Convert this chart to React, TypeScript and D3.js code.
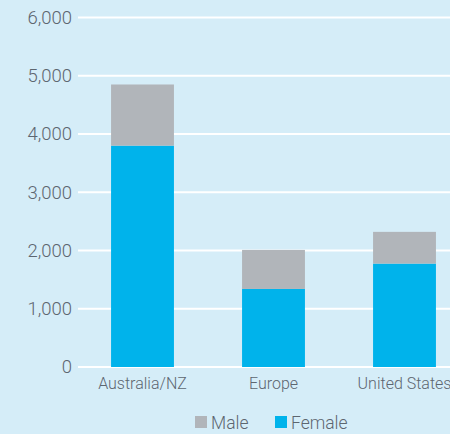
import { useEffect, useRef } from 'react'
import * as d3 from 'd3'

const regions = ['Australia/NZ', 'Europe', 'United States']
const female = [3800, 1340, 1775]
const male = [1050, 670, 545]
const yTicks = [0, 1000, 2000, 3000, 4000, 5000, 6000]
const seriesNames = ['Male', 'Female']

const App = () => {
	const svgRef = useRef(null)

	useEffect(() => {
		const width = 450
		const height = 434
		const bg = '#d5edf8'
		const textColor = '#5d6670'
		const colors = { Male: '#b1b5ba', Female: '#00b3eb' }

		const svg = d3.select(svgRef.current)
		svg.selectAll('*').remove()
		svg.attr('width', width).attr('height', height)

		svg.append('rect').attr('width', width).attr('height', height).attr('fill', bg)

		const x = d3.scaleBand().domain(regions).range([77, 470]).paddingInner(0.52).paddingOuter(0.26)
		const y = d3.scaleLinear().domain([0, 6000]).range([367, 17.5])

		// grid + y labels
		const grid = svg.append('g')
		grid
			.selectAll('line')
			.data(yTicks)
			.join('line')
			.attr('x1', 78)
			.attr('x2', width)
			.attr('y1', (d) => y(d))
			.attr('y2', (d) => y(d))
			.attr('stroke', '#ffffff')
			.attr('stroke-width', 2)

		grid
			.selectAll('text')
			.data(yTicks)
			.join('text')
			.attr('x', 72)
			.attr('y', (d) => y(d))
			.attr('dy', '0.35em')
			.attr('text-anchor', 'end')
			.attr('font-family', 'Roboto, sans-serif')
			.attr('font-weight', 300)
			.attr('font-size', 18.5)
			.attr('fill', textColor)
			.text((d) => d3.format(',')(d))

		// stacked bars
		const rows = regions.map((r, i) => ({ region: r, Female: female[i], Male: male[i] }))
		const stacked = d3.stack().keys(['Female', 'Male'])(rows)

		svg
			.append('g')
			.selectAll('g')
			.data(stacked)
			.join('g')
			.attr('fill', (s) => colors[s.key])
			.selectAll('rect')
			.data((s) => s)
			.join('rect')
			.attr('x', (d) => x(d.data.region))
			.attr('width', x.bandwidth())
			.attr('y', (d) => y(d[1]))
			.attr('height', (d) => y(d[0]) - y(d[1]))

		// x labels
		svg
			.append('g')
			.selectAll('text')
			.data(regions)
			.join('text')
			.attr('x', (d) => x(d) + x.bandwidth() / 2)
			.attr('y', 389)
			.attr('text-anchor', 'middle')
			.attr('font-family', 'Roboto, sans-serif')
			.attr('font-weight', 300)
			.attr('font-size', 16)
			.attr('fill', textColor)
			.text((d) => d)

		// legend
		const legendX = [195, 275]
		const legend = svg
			.append('g')
			.selectAll('g')
			.data(seriesNames)
			.join('g')
			.attr('transform', (d, i) => `translate(${legendX[i]},416)`)
		legend.append('rect').attr('width', 12).attr('height', 12).attr('fill', (d) => colors[d])
		legend
			.append('text')
			.attr('x', 16)
			.attr('y', 13)
			.attr('font-family', 'Roboto, sans-serif')
			.attr('font-weight', 300)
			.attr('font-size', 17.5)
			.attr('fill', textColor)
			.text((d) => d)
	}, [])

	return <svg ref={svgRef} style={{ position: 'absolute', left: 0, top: 0, display: 'block' }}></svg>
}

export default App
